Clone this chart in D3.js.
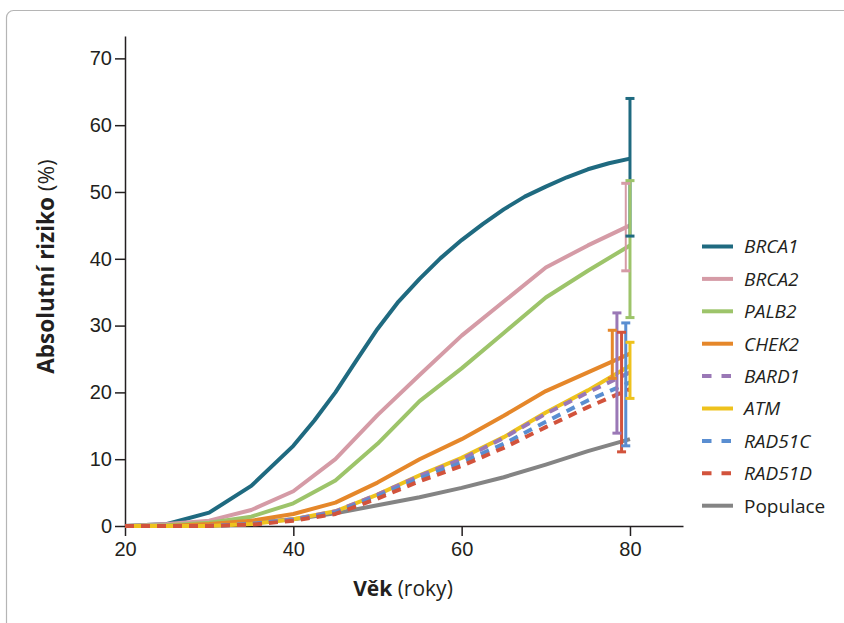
<!DOCTYPE html>
<html>
<head>
<meta charset="utf-8">
<script src="https://cdn.jsdelivr.net/npm/d3@7.8.5/dist/d3.min.js"></script>
<style>
  body { margin: 0; background: #fff; }
  svg { display: block; font-family: "Open Sans", "Noto Sans", sans-serif; }
</style>
</head>
<body>
<div id="chart"></div>
<script>
// ages at which the curves are read
const ages = [20, 25, 30, 35, 40, 45, 50, 55, 60, 65, 70, 75, 80];
// BRCA1 bends more, so it is read more often
const agesBrca1 = [20, 25, 30, 35, 40, 42.5, 45, 47.5, 50, 52.5, 55, 57.5, 60, 62.5, 65, 67.5, 70, 72.5, 75, 77.5, 80];

const genes = ['BRCA1', 'BRCA2', 'PALB2', 'CHEK2', 'BARD1', 'ATM', 'RAD51C', 'RAD51D', 'Populace'];

// cumulative risk (%) per age
const brca1 = [0, 0.3, 2, 6, 12, 15.8, 20, 24.8, 29.5, 33.6, 37, 40.1, 42.8, 45.2, 47.4, 49.3, 50.8, 52.2, 53.4, 54.3, 55];
const brca2 = [0, 0.3, 0.8, 2.4, 5.2, 10, 16.6, 22.6, 28.5, 33.6, 38.7, 42, 45];
const palb2 = [0, 0.1, 0.5, 1.4, 3.4, 6.8, 12.3, 18.7, 23.6, 28.9, 34.2, 38.2, 42];
const chek2 = [0, 0, 0.3, 0.8, 1.8, 3.5, 6.5, 10, 13, 16.5, 20.2, 23, 25.8];
const bard1 = [0, 0, 0, 0.3, 1.0, 2.2, 4.7, 7.5, 10, 13.2, 16.8, 20, 23];
const atm = [0, 0, 0, 0.3, 1.0, 2.2, 4.7, 7.6, 10.2, 13.3, 17, 20.3, 24];
const rad51c = [0, 0, 0, 0.3, 0.9, 2.0, 4.4, 7.1, 9.5, 12.3, 15.6, 18.8, 21.5];
const rad51d = [0, 0, 0, 0.2, 0.8, 1.8, 4.1, 6.7, 9.0, 11.7, 14.8, 17.8, 20.5];
const populace = [0, 0, 0, 0.5, 1.0, 1.9, 3.1, 4.3, 5.7, 7.3, 9.2, 11.2, 13];

// confidence intervals at age 80 (drawn slightly offset)
const errAge = [80, 79.5, 80, 77.9, 78.45, 80, 79.5, 79.0];
const errLow = [43.4, 38.2, 31.2, 22.1, 13.9, 19.1, 12.0, 11.1];
const errHigh = [64.0, 51.3, 51.7, 29.3, 31.9, 27.5, 30.4, 29.0];

const colors = ['#1f6a80', '#d59ba6', '#9dc46a', '#e5872a', '#9a78b6', '#eec21d', '#5a8ed1', '#d2533c', '#848484'];
const dashed = [false, false, false, false, true, false, true, true, false];

const xTicks = [20, 40, 60, 80];
const yTicks = [0, 10, 20, 30, 40, 50, 60, 70];

const values = [brca1, brca2, palb2, chek2, bard1, atm, rad51c, rad51d, populace];
const xs = values.map((v, i) => (i === 0 ? agesBrca1 : ages));

const width = 844, height = 623;
const margin = { top: 36, left: 125 };
const plotW = 558, plotH = 490;

const svg = d3.select('#chart').append('svg')
    .attr('width', width)
    .attr('height', height);

// frame
svg.append('rect')
    .attr('x', 6.5).attr('y', 10.5)
    .attr('width', 900).attr('height', 700)
    .attr('rx', 7)
    .attr('fill', 'none')
    .attr('stroke', '#b5b5b5')
    .attr('stroke-width', 1.2);

const g = svg.append('g')
    .attr('transform', `translate(${margin.left},${margin.top})`);

const x = d3.scaleLinear().domain([20, 86.3]).range([0, plotW]);
const y = d3.scaleLinear().domain([0, 73.35]).range([plotH, 0]);

// axes
const xAxis = g.append('g')
    .attr('transform', `translate(0,${plotH})`)
    .call(d3.axisBottom(x).tickValues(xTicks).tickSize(10).tickSizeOuter(0).tickPadding(6));
const yAxis = g.append('g')
    .call(d3.axisLeft(y).tickValues(yTicks).tickSize(10).tickSizeOuter(0).tickPadding(3));

[xAxis, yAxis].forEach(a => {
    a.selectAll('path, line').attr('stroke', '#231f20').attr('stroke-width', 1.5);
    a.selectAll('text').attr('fill', '#231f20').style('font-size', '20px').attr('font-family', null);
});

// series lines
const drawOrder = [8, 0, 1, 2, 3, 5, 4, 6, 7];
drawOrder.forEach(i => {
    const line = d3.line()
        .x((d, j) => x(xs[i][j]))
        .y(d => y(d));
    g.append('path')
        .datum(values[i])
        .attr('d', line)
        .attr('fill', 'none')
        .attr('stroke', colors[i])
        .attr('stroke-width', 4)
        .attr('stroke-linejoin', 'round')
        .attr('stroke-dasharray', dashed[i] ? '9,7' : null);
});

// error bars: verticals first, caps on top
const errIdx = d3.range(errAge.length);
const capW = 9;
g.selectAll('.err-line')
    .data(errIdx)
    .enter()
    .append('line')
    .attr('x1', i => x(errAge[i]))
    .attr('x2', i => x(errAge[i]))
    .attr('y1', i => y(errLow[i]))
    .attr('y2', i => y(errHigh[i]))
    .attr('stroke', i => colors[i])
    .attr('stroke-width', i => (i === 1 ? 2 : 3));

errIdx.forEach(i => {
    [errLow[i], errHigh[i]].forEach(v => {
        g.append('line')
            .attr('x1', x(errAge[i]) - capW / 2)
            .attr('x2', x(errAge[i]) + capW / 2)
            .attr('y1', y(v))
            .attr('y2', y(v))
            .attr('stroke', colors[i])
            .attr('stroke-width', 3);
    });
});

// axis titles
svg.append('text')
    .attr('x', 403)
    .attr('y', 596)
    .attr('text-anchor', 'middle')
    .attr('fill', '#231f20')
    .style('font-size', '21px')
    .html('<tspan font-weight="bold">Věk</tspan> (roky)');

svg.append('text')
    .attr('transform', 'translate(54,266.5) rotate(-90)')
    .attr('text-anchor', 'middle')
    .attr('fill', '#231f20')
    .style('font-size', '22.5px')
    .html('<tspan font-weight="bold">Absolutní riziko</tspan> (%)');

// legend
const legend = svg.append('g').attr('transform', 'translate(702,246.5)');
const rows = legend.selectAll('.leg')
    .data(genes)
    .enter()
    .append('g')
    .attr('transform', (d, i) => `translate(0,${i * 32.4})`);

rows.append('line')
    .attr('x1', 0).attr('x2', 31)
    .attr('stroke', (d, i) => colors[i])
    .attr('stroke-width', 4)
    .attr('stroke-dasharray', (d, i) => dashed[i] ? '9.5,10' : null);

rows.append('text')
    .attr('x', 42)
    .attr('dy', '0.36em')
    .attr('fill', '#231f20')
    .style('font-size', '19px')
    .style('font-style', d => d === 'Populace' ? 'normal' : 'italic')
    .text(d => d);
</script>
</body>
</html>
